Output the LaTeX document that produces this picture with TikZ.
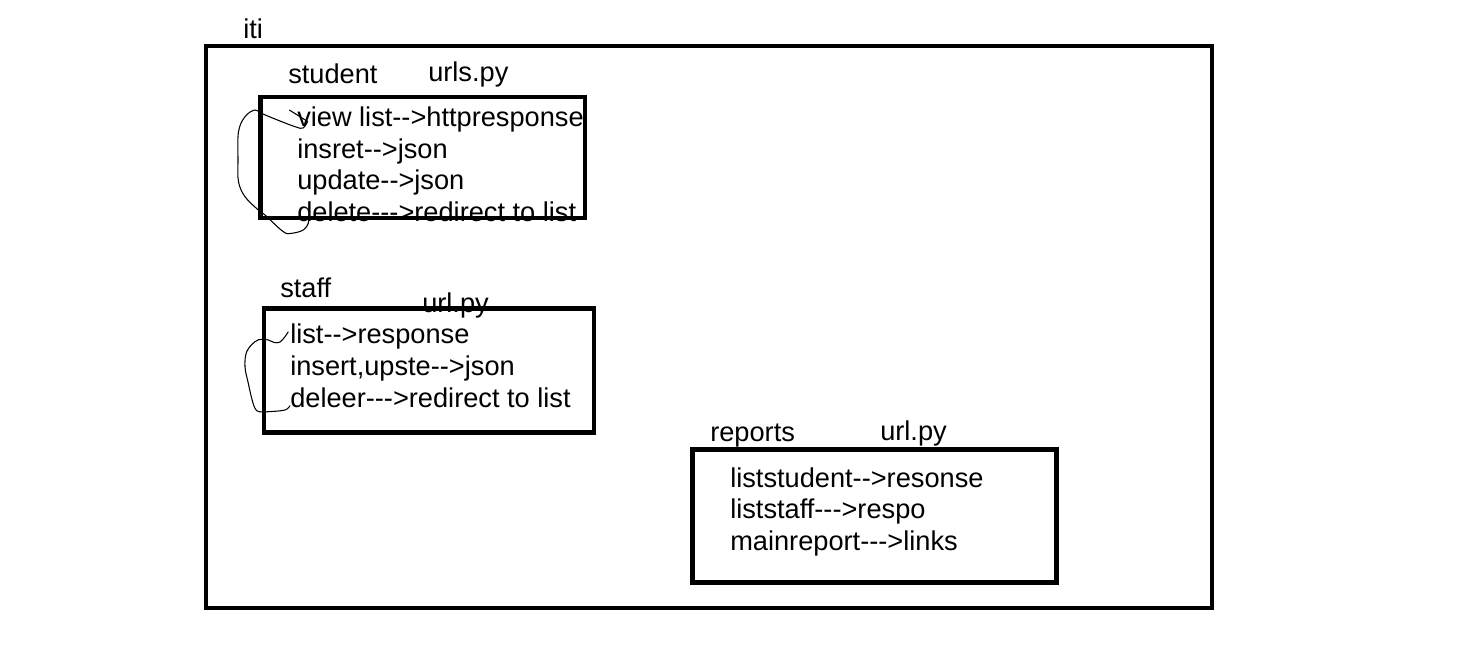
\documentclass[tikz,border=0pt]{standalone}
\usepackage{fontspec}
\setmainfont{Liberation Sans}
\begin{document}
\begin{tikzpicture}[x=0.75pt,y=-0.75pt,
  lbl/.style={anchor=base west,inner sep=0pt,font=\fontsize{20.4}{24}\selectfont},
  boxline/.style={line width=3.4pt,draw=black},
  scribble/.style={line width=0.8pt,draw=black}]
\useasboundingbox (0,0) rectangle (1479,656);
\fill[white] (0,0) rectangle (1479,656);
% labels
\node[lbl] (iti) at (243,39) {iti};
\node[lbl] (student) at (288,84) {student};
\node[lbl] (urls) at (428,82) {urls.py};
\node[lbl] (s1) at (297,127) {view list-{}->httpresponse};
\node[lbl] (s2) at (297,158.5) {insret-{}->json};
\node[lbl] (s3) at (297,190) {update-{}->json};
\node[lbl] (s4) at (297,221.5) {delete-{}-{}->redirect to list};
\node[lbl] (staff) at (280,297) {staff};
\node[lbl] (urlstaff) at (422,312) {url.py};
\node[lbl] (t1) at (290,343.5) {list-{}->response};
\node[lbl] (t2) at (290,375.5) {insert,upste-{}->json};
\node[lbl] (t3) at (290,407.5) {deleer-{}-{}->redirect to list};
\node[lbl] (reports) at (710,441) {reports};
\node[lbl] (urlrep) at (880,440) {url.py};
\node[lbl] (r1) at (730,487) {liststudent-{}->resonse};
\node[lbl] (r2) at (730,518.5) {liststaff-{}-{}->respo};
\node[lbl] (r3) at (730,550) {mainreport-{}-{}->links};
% hand-drawn scribbles
\draw[scribble] (289.3,110) -- (307.7,121.5);
\draw[scribble] plot[smooth,tension=0.6] coordinates {(307.7,121.5) (303,128) (296,127) (280,121) (263,114) (255,110) (245,116.7) (238.5,131.7) (238,160) (238.5,181.7) (245,196.7) (258.3,210) (265,215) (283.3,231.7) (291.7,233.3) (303.3,230) (308.3,223.3) (308.5,217)};
\draw[scribble] plot[smooth,tension=0.6] coordinates {(288.3,331.7) (285,336.7) (280,342) (274.3,342.5) (268.3,340) (261.7,339.3) (255,341.7) (246.7,351.7) (245,366.7) (248.3,383.3) (251.7,398.3) (255,408.3) (259,411.7) (268.3,411.7) (285,410) (290,405.5)};
% boxes
\draw[boxline] (206,46) rectangle (1212,608);
\draw[boxline] (260.5,97) rectangle (585,218);
\draw[boxline] (264,308.5) rectangle (594,432.5);
\draw[boxline] (692.5,449.5) rectangle (1056.5,582.5);
\end{tikzpicture}
\end{document}
